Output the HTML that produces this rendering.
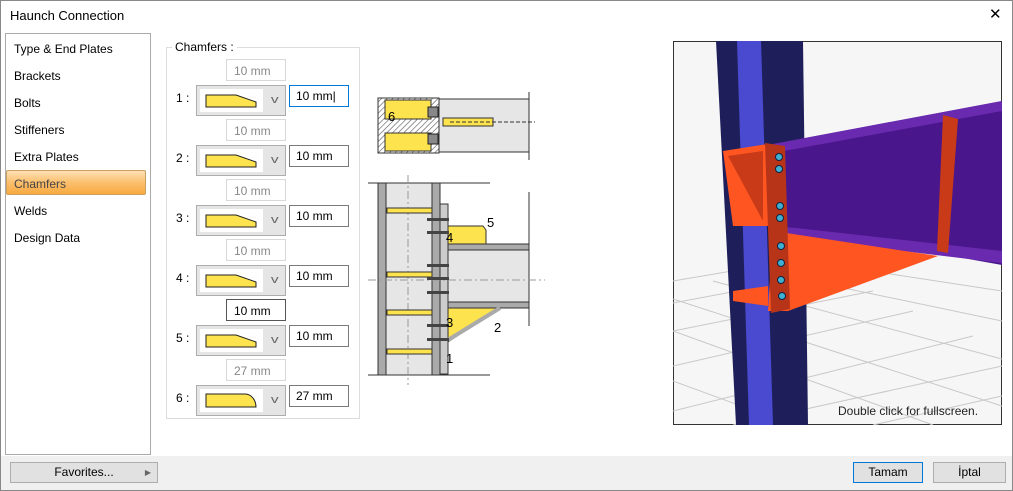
<!DOCTYPE html>
<html><head><meta charset="utf-8"><style>
*{box-sizing:border-box;margin:0;padding:0}
body{width:1013px;height:491px;overflow:hidden;background:#fff;font-family:"Liberation Sans",sans-serif;font-size:12px;color:#000;position:relative}
.a{position:absolute}
.win{left:0;top:0;width:1013px;height:491px;border:1px solid #888}
.title{left:10px;top:8px;font-size:13px}
.close{left:989px;top:5px;font-size:15px}
.nav{left:5px;top:33px;width:146px;height:422px;border:1px solid #aaa;background:#fff}
.sel{left:6px;top:170px;width:140px;height:25px;border:1px solid #c9a060;border-radius:2px;background:linear-gradient(#fde0b4,#fbbf6e 50%,#f8a940)}
.bot{left:1px;top:456px;width:1011px;height:34px;background:#f0f0f0}
.btn{position:absolute;border:1px solid #adadad;background:#e1e1e1;text-align:center;line-height:19px;font-size:12px}
.grp{left:166px;top:47px;width:194px;height:372px;border:1px solid #dcdcdc}
.gl{left:172px;top:40px;background:#fff;padding:0 3px}
.sm{position:absolute;left:226px;width:60px;height:22px;border:1px solid #d8d8d8;color:#888;padding:4px 0 0 7px;background:#fff}
.cb{position:absolute;left:196px;width:90px;height:31px;border:1px solid #adadad;background:#e5e5e5}
.cb .in{position:absolute;left:3px;top:3px;width:63px;height:23px;background:#fff}
.cb .ch{position:absolute;left:75px;top:8px;font-size:11px;color:#666;transform:scaleX(1.4)}
.inp{position:absolute;left:289px;width:60px;height:22px;border:1px solid #7a7a7a;padding:3px 0 0 6px;background:#fff}
.lb{position:absolute;left:176px}
</style></head><body>
<div class="a win"></div>
<div class="a title">Haunch Connection</div>
<div class="a close">✕</div>
<div class="a nav"></div>
<div class="a sel"></div>
<div class="a" style="left:14px;top:42px">Type &amp; End Plates</div>
<div class="a" style="left:14px;top:69px">Brackets</div>
<div class="a" style="left:14px;top:96px">Bolts</div>
<div class="a" style="left:14px;top:123px">Stiffeners</div>
<div class="a" style="left:14px;top:150px">Extra Plates</div>
<div class="a" style="left:14px;top:177px;color:#444">Chamfers</div>
<div class="a" style="left:14px;top:204px">Welds</div>
<div class="a" style="left:14px;top:231px">Design Data</div>

<div class="a grp"></div>
<div class="a gl">Chamfers :</div>

<div class="sm" style="top:59px">10 mm</div>
<div class="sm" style="top:119px">10 mm</div>
<div class="sm" style="top:179px">10 mm</div>
<div class="sm" style="top:239px">10 mm</div>
<div class="sm" style="top:299px;border-color:#555;color:#000">10 mm</div>
<div class="sm" style="top:359px">27 mm</div>

<div class="lb" style="top:91px">1 :</div>
<div class="lb" style="top:151px">2 :</div>
<div class="lb" style="top:211px">3 :</div>
<div class="lb" style="top:271px">4 :</div>
<div class="lb" style="top:331px">5 :</div>
<div class="lb" style="top:391px">6 :</div>

<div class="cb" style="top:85px"><div class="in"><svg width="63" height="23"><polygon points="6,6 36,6 56,13 56,18 6,18" fill="#fde34d" stroke="#222"/></svg></div><div class="ch">v</div></div>
<div class="cb" style="top:145px"><div class="in"><svg width="63" height="23"><polygon points="6,6 36,6 56,13 56,18 6,18" fill="#fde34d" stroke="#222"/></svg></div><div class="ch">v</div></div>
<div class="cb" style="top:205px"><div class="in"><svg width="63" height="23"><polygon points="6,6 36,6 56,13 56,18 6,18" fill="#fde34d" stroke="#222"/></svg></div><div class="ch">v</div></div>
<div class="cb" style="top:265px"><div class="in"><svg width="63" height="23"><polygon points="6,6 36,6 56,13 56,18 6,18" fill="#fde34d" stroke="#222"/></svg></div><div class="ch">v</div></div>
<div class="cb" style="top:325px"><div class="in"><svg width="63" height="23"><polygon points="6,6 36,6 56,13 56,18 6,18" fill="#fde34d" stroke="#222"/></svg></div><div class="ch">v</div></div>
<div class="cb" style="top:385px"><div class="in"><svg width="63" height="23"><path d="M6,5 H45 A11,13 0 0 1 56,18 H6 Z" fill="#fde34d" stroke="#222"/></svg></div><div class="ch">v</div></div>

<div class="inp" style="top:85px;border-color:#0078d7">10 mm|</div>
<div class="inp" style="top:145px">10 mm</div>
<div class="inp" style="top:205px">10 mm</div>
<div class="inp" style="top:265px">10 mm</div>
<div class="inp" style="top:325px">10 mm</div>
<div class="inp" style="top:385px">27 mm</div>

<svg class="a" style="left:360px;top:80px" width="190" height="330" font-family="Liberation Sans" font-size="13">
<defs><pattern id="h" width="4" height="4" patternUnits="userSpaceOnUse" patternTransform="rotate(45)"><rect width="4" height="4" fill="#fff"/><line x1="0" y1="0" x2="0" y2="4" stroke="#555" stroke-width="1.2"/></pattern></defs>
<rect x="18" y="18" width="61" height="55" fill="url(#h)" stroke="#333"/>
<rect x="25" y="20" width="46" height="19" fill="#fde34d" stroke="#333"/>
<rect x="25" y="53" width="46" height="18" fill="#fde34d" stroke="#333"/>
<rect x="79" y="19" width="90" height="53" fill="#e6e6e6" stroke="#333"/>
<rect x="83" y="38" width="50" height="8" fill="#fde34d" stroke="#333"/>
<line x1="90" y1="42" x2="175" y2="42" stroke="#333" stroke-dasharray="4,2"/>
<line x1="169" y1="12" x2="169" y2="80" stroke="#333"/>
<rect x="68" y="27" width="10" height="10" fill="#888" stroke="#222"/>
<rect x="68" y="54" width="10" height="10" fill="#888" stroke="#222"/>
<text x="28" y="41">6</text>
<rect x="18" y="103" width="8" height="192" fill="#aaa" stroke="#333"/>
<rect x="26" y="103" width="46" height="192" fill="#e6e6e6" stroke="#333"/>
<rect x="72" y="103" width="8" height="192" fill="#aaa" stroke="#333"/>
<rect x="80" y="124" width="8" height="170" fill="#ccc" stroke="#333"/>
<line x1="8" y1="103" x2="130" y2="103" stroke="#333"/>
<line x1="8" y1="295" x2="130" y2="295" stroke="#333"/>
<line x1="48" y1="95" x2="48" y2="305" stroke="#999" stroke-dasharray="8,3,2,3"/>
<rect x="27" y="128" width="45" height="5" fill="#fde34d" stroke="#333"/>
<rect x="27" y="192" width="45" height="5" fill="#fde34d" stroke="#333"/>
<rect x="27" y="230" width="45" height="5" fill="#fde34d" stroke="#333"/>
<rect x="27" y="269" width="45" height="5" fill="#fde34d" stroke="#333"/>
<path d="M88,146 H123 L126,150 V164 H88 Z" fill="#fde34d" stroke="#333"/>
<rect x="88" y="164" width="81" height="6" fill="#aaa" stroke="#333"/>
<rect x="88" y="170" width="81" height="52" fill="#e6e6e6" stroke="#333"/>
<rect x="88" y="222" width="81" height="6" fill="#aaa" stroke="#333"/>
<polygon points="88,228 140,228 88,262" fill="#fde34d" stroke="#333"/>
<line x1="88" y1="260" x2="140" y2="228" stroke="#aaa" stroke-width="4"/>
<line x1="169" y1="112" x2="169" y2="206" stroke="#333"/>
<line x1="169" y1="210" x2="169" y2="246" stroke="#333"/>
<line x1="8" y1="200" x2="185" y2="200" stroke="#999" stroke-dasharray="8,3,2,3"/>
<g fill="#444"><rect x="67" y="138" width="22" height="3"/><rect x="67" y="151" width="22" height="3"/><rect x="67" y="184" width="22" height="3"/><rect x="67" y="197" width="22" height="3"/><rect x="67" y="211" width="22" height="3"/><rect x="67" y="244" width="22" height="3"/><rect x="67" y="258" width="22" height="3"/></g>
<text x="127" y="147">5</text><text x="86" y="162">4</text><text x="86" y="247">3</text><text x="134" y="252">2</text><text x="86" y="283">1</text>
</svg>

<svg class="a" style="left:673px;top:41px" width="329" height="384">
<rect width="329" height="384" fill="#f6f6f6" stroke="#333" stroke-width="2"/>
<g stroke="#c8c8c8" fill="none">
<path d="M0,240 L130,218 M0,262 L160,232 M0,290 L200,250 M0,325 L240,270 M0,370 L300,295 M60,384 L329,325 M200,384 L329,355"/>
<path d="M120,218 L329,250 M80,228 L329,280 M40,240 L329,318 M0,258 L329,365 M0,290 L260,384 M0,340 L120,384"/>
</g>
<polygon points="43,0 130,0 135,384 63,384" fill="#1e1f5a"/>
<polygon points="64,0 88,0 100,384 76,384" fill="#4a4ad0"/>
<polygon points="100,103 329,60 329,224 100,183" fill="#4a168c"/>
<polygon points="100,103 329,60 329,70 100,112" fill="#6a2ab0"/>
<polygon points="105,185 329,210 329,222 105,195" fill="#6a2ab0"/>
<polygon points="100,190 265,215 115,270 95,270" fill="#ff5520"/>
<polygon points="50,110 95,103 95,185 60,185" fill="#ff5520"/>
<polygon points="55,115 90,110 90,180" fill="#c83a18"/>
<polygon points="60,250 95,245 95,265 60,260" fill="#ff5520"/>
<polygon points="92,102 112,105 117,268 98,272" fill="#b83418"/>
<polygon points="270,74 285,78 275,212 264,210" fill="#c83a18"/>
<g fill="#3fb0d0" stroke="#124"><circle cx="106" cy="116" r="3.5"/><circle cx="106" cy="128" r="3.5"/><circle cx="107" cy="165" r="3.5"/><circle cx="107" cy="177" r="3.5"/><circle cx="108" cy="205" r="3.5"/><circle cx="108" cy="222" r="3.5"/><circle cx="108" cy="239" r="3.5"/><circle cx="109" cy="255" r="3.5"/></g>
<text x="165" y="374" font-family="Liberation Sans" font-size="12" fill="#222">Double click for fullscreen.</text>
</svg>

<div class="a bot"></div>
<div class="btn" style="left:10px;top:462px;width:148px">Favorites...<span style="position:absolute;right:6px;font-size:8px;color:#666">▶</span></div>
<div class="btn" style="left:853px;top:462px;width:70px;border:1px solid #0078d7">Tamam</div>
<div class="btn" style="left:933px;top:462px;width:73px">İptal</div>
</body></html>
